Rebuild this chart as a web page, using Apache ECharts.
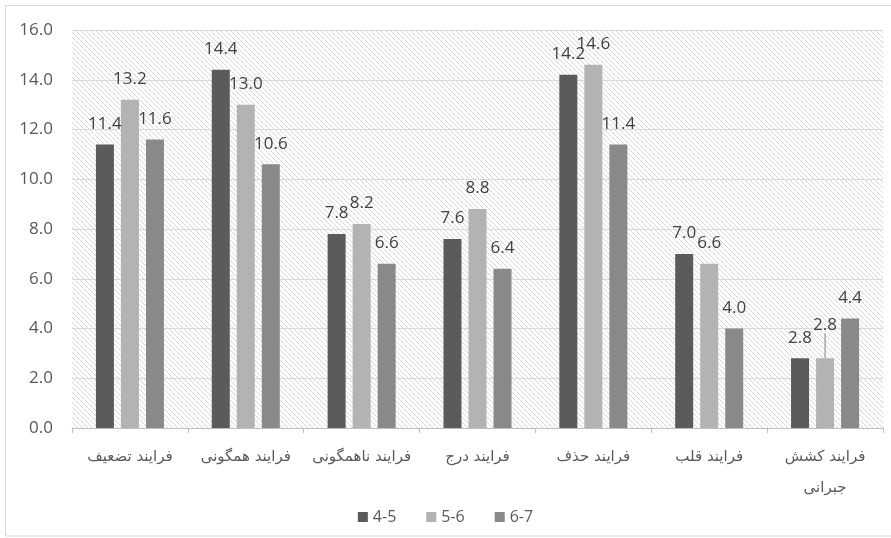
<!DOCTYPE html>
<html>
<head>
<meta charset="utf-8">
<script src="https://cdn.jsdelivr.net/npm/echarts@6/dist/echarts.min.js"></script>
<style>
    html, body { margin: 0; padding: 0; background: #fff; }
    #main { width: 891px; height: 538px; }
</style>
</head>
<body>
<div id="main"></div>
<script>
// داده‌ها
var categories = ['فرایند تضعیف', 'فرایند همگونی', 'فرایند ناهمگونی', 'فرایند درج', 'فرایند حذف', 'فرایند قلب', 'فرایند کشش\nجبرانی'];
var seriesNames = ['4-5', '5-6', '6-7'];
var age45 = [11.4, 14.4, 7.8, 7.6, 14.2, 7.0, 2.8];
var age56 = [13.2, 13.0, 8.2, 8.8, 14.6, 6.6, 2.8];
var age67 = [11.6, 10.6, 6.6, 6.4, 11.4, 4.0, 4.4];
var yTicks = [0, 2, 4, 6, 8, 10, 12, 14, 16];

// hatch pattern for the plot background
var pc = document.createElement('canvas');
pc.width = 5; pc.height = 5;
var ctx = pc.getContext('2d');
ctx.strokeStyle = '#d6d6d6';
ctx.lineWidth = 1;
ctx.beginPath();
ctx.moveTo(-1, -1); ctx.lineTo(6, 6);
ctx.moveTo(-1, 4); ctx.lineTo(1, 6);
ctx.moveTo(4, -1); ctx.lineTo(6, 1);
ctx.stroke();

var colors = ['#5b5b5b', '#b3b3b3', '#898989'];
var numFont = '"Open Sans", sans-serif';

function makeSeries (name, data, idx) {
    var s = {
        name: name,
        type: 'bar',
        barWidth: 18,
        barGap: '39%',
        itemStyle: { color: colors[idx] },
        label: {
            show: true,
            position: 'top',
            distance: 12,
            color: '#404040',
            fontSize: 17,
            fontFamily: numFont,
            formatter: function (p) { return p.value.toFixed(1) }
        },
        labelLine: { show: false },
        data: data.map(function (v, i) {
            // label of the last light bar is pushed up with a leader line
            if (idx === 1 && i === 6) {
                return { value: v, labelLine: { show: true, lineStyle: { color: '#7f7f7f', width: 1 } } }
            }
            return v
        })
    }
    if (idx === 1) {
        s.labelLayout = function (p) {
            if (p.dataIndex === 6) return { dy: -13 }
            return {}
        }
    }
    return s
}

var myChart = echarts.init(document.getElementById('main'))

myChart.setOption({
    backgroundColor: '#fff',
    animation: false,
    graphic: [{
        type: 'rect',
        shape: { x: 5.5, y: 5.5, width: 900, height: 530.5 },
        style: { fill: 'none', stroke: '#d9d9d9', lineWidth: 1 },
        silent: true
    }],
    grid: {
        left: 72,
        right: 8,
        top: 30,
        bottom: 110,
        show: true,
        borderWidth: 0,
        backgroundColor: { image: pc, repeat: 'repeat' }
    },
    legend: {
        data: seriesNames,
        bottom: 8,
        left: 'center',
        itemWidth: 10,
        itemHeight: 10,
        itemGap: 30,
        icon: 'rect',
        textStyle: { color: '#595959', fontSize: 16, fontFamily: numFont }
    },
    xAxis: {
        type: 'category',
        data: categories,
        axisLine: { lineStyle: { color: '#bfbfbf' } },
        axisTick: { show: true, length: 5, lineStyle: { color: '#bfbfbf' } },
        axisLabel: {
            color: '#595959',
            fontSize: 15,
            fontFamily: '"DejaVu Sans", sans-serif',
            margin: 14,
            lineHeight: 31,
            interval: 0
        }
    },
    yAxis: {
        type: 'value',
        min: yTicks[0],
        max: yTicks[yTicks.length - 1],
        interval: 2,
        axisLine: { show: false },
        axisTick: { show: false },
        splitLine: { lineStyle: { color: '#d9d9d9' } },
        axisLabel: {
            color: '#595959',
            fontSize: 17,
            fontFamily: numFont,
            margin: 19,
            formatter: function (v) { return v.toFixed(1) }
        }
    },
    series: [
        makeSeries(seriesNames[0], age45, 0),
        makeSeries(seriesNames[1], age56, 1),
        makeSeries(seriesNames[2], age67, 2)
    ]
})
</script>
</body>
</html>
